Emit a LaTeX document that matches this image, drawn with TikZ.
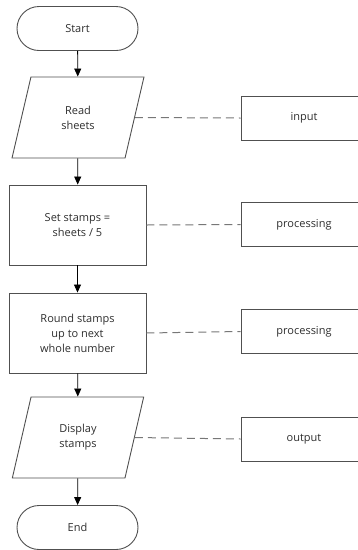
\documentclass[tikz,border=0pt]{standalone}
\usepackage{fontspec}
\setmainfont{Open Sans}
\usetikzlibrary{arrows.meta}
\usetikzlibrary{shapes.misc}
\usetikzlibrary{shapes.geometric}

\definecolor{ink}{HTML}{2E2E2E}
\definecolor{edge}{HTML}{505050}
\definecolor{link}{HTML}{777777}

\begin{document}
\begin{tikzpicture}[x=1pt, y=-1pt, >={Triangle[length=8pt,width=7pt]},
  every node/.style={text=ink, font=\fontsize{11}{15}\selectfont, align=center},
  term/.style={draw=edge, line width=.9pt, rounded rectangle, minimum width=121pt, minimum height=44pt, inner sep=0pt},
  io/.style={draw=edge, line width=.9pt, trapezium, trapezium left angle=74, trapezium right angle=106, trapezium stretches=true, minimum width=132pt, minimum height=81pt, inner sep=0pt},
  proc/.style={draw=edge, line width=.9pt, rectangle, minimum width=137pt, minimum height=80pt, inner sep=0pt},
  kind/.style={draw=edge, line width=.9pt, rectangle, minimum width=126pt, minimum height=44pt, inner sep=0pt},
  flow/.style={->, draw=black, line width=.8pt},
  note/.style={draw=link, line width=1pt, dash pattern=on 8pt off 5pt}]
\useasboundingbox (0,0) rectangle (357,550);
% main column
\node[term] (start) at (77.5,28.5) {Start};
\node[io] (read) at (78,117.5) {Read\\sheets};
\node[proc] (set) at (77.5,225) {Set stamps =\\sheets / 5};
\node[proc] (round) at (77.5,333) {Round stamps\\up to next\\whole number};
\node[io] (show) at (78,437.5) {Display\\stamps};
\node[term] (end) at (77.5,527.5) {End};
\draw[flow] (start) -- (read);
\draw[flow] (read) -- (set);
\draw[flow] (set) -- (round);
\draw[flow] (round) -- (show);
\draw[flow] (show) -- (end);
% what each step is
\node[kind] (in) at (304,118) {input};
\node[kind] (calc1) at (304,224.5) {processing};
\node[kind] (calc2) at (304,331.5) {processing};
\node[kind] (out) at (304,439) {output};
\draw[note] (read.east) -- (in.west);
\draw[note] (set.east) -- (calc1.west);
\draw[note] (round.east) -- (calc2.west);
\draw[note] (show.east) -- (out.west);
\end{tikzpicture}
\end{document}
